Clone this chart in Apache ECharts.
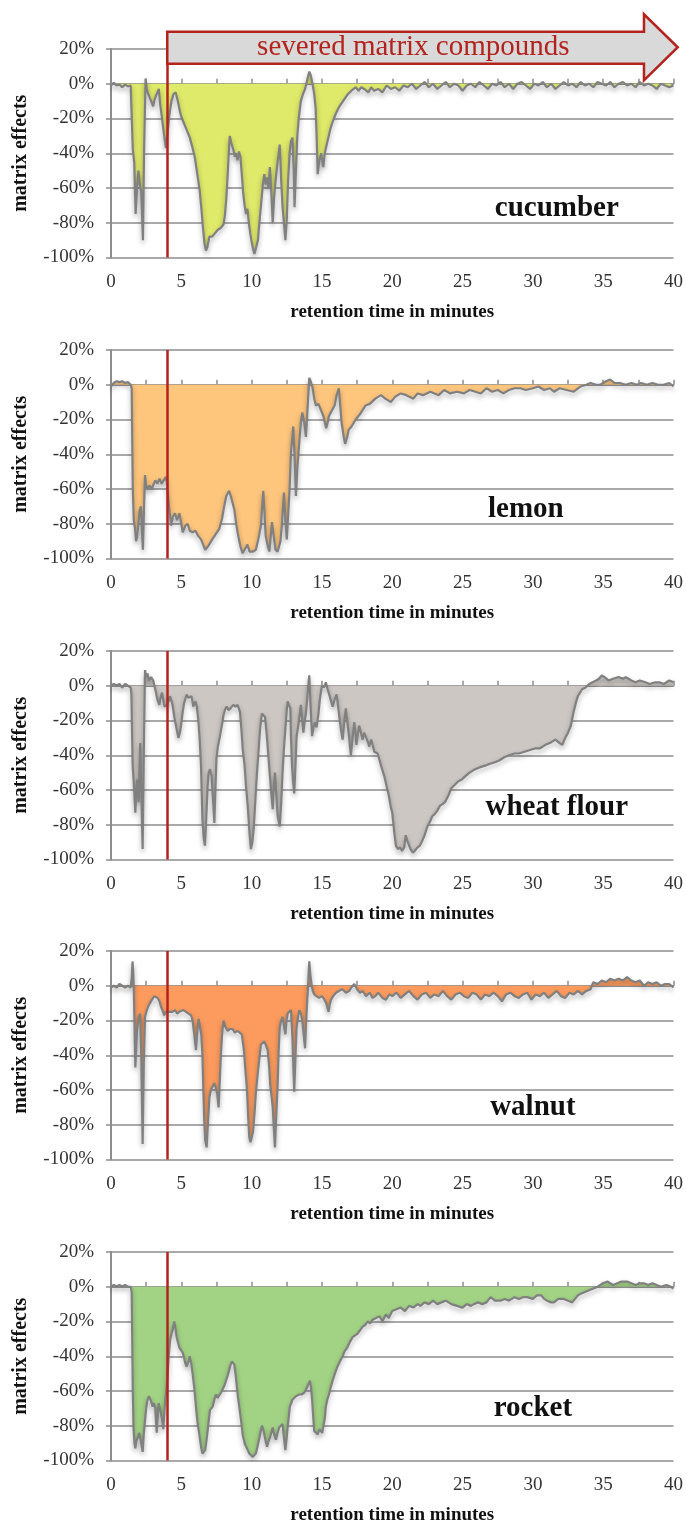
<!DOCTYPE html>
<html>
<head>
<meta charset="utf-8">
<script src="https://cdn.jsdelivr.net/npm/echarts@6/dist/echarts.min.js"></script>
<style>
  html, body { margin: 0; padding: 0; background: #fff; }
  #chart { width: 686px; height: 1527px; }
</style>
</head>
<body>
<div id="chart"></div>
<script>
// retention time (min) vs matrix effect (%)
const samples = ['cucumber', 'lemon', 'wheat flour', 'walnut', 'rocket']
const xTicks = [0, 5, 10, 15, 20, 25, 30, 35, 40]
const yTicks = [-100, -80, -60, -40, -20, 0, 20]
const arrowLabel = 'severed matrix compounds'
const cutoffTime = 4

const cucumber = [
  [0,-1],[0.2,0.5],[0.4,-1],[0.6,-0.5],[0.8,-2],[1.0,-0.5],[1.2,-1.5],[1.4,-1],[1.5,-2],
  [1.55,-38],[1.65,-45],[1.75,-75],[1.85,-60],[1.95,-50],[2.05,-58],[2.15,-62],[2.27,-90],[2.35,-40],[2.46,3],
  [2.55,-3],[2.65,-6],[2.75,-8],[2.85,-10],[3.0,-13],[3.1,-9],[3.2,-7],[3.3,-5],[3.4,-3],[3.5,-12],[3.6,-18],
  [3.75,-28],[3.9,-37],[4.0,-30],[4.15,-18],[4.3,-10],[4.45,-6],[4.6,-5],[4.75,-10],[4.9,-16],[5.0,-19],
  [5.2,-23],[5.4,-27],[5.6,-31],[5.8,-37],[5.95,-42],[6.1,-50],[6.3,-61],[6.45,-74],[6.55,-84],[6.65,-92],
  [6.75,-96],[6.85,-94],[7.0,-88],[7.2,-88],[7.4,-86],[7.6,-84],[7.8,-83],[8.0,-81],[8.1,-76],[8.2,-66],
  [8.3,-52],[8.4,-36],[8.45,-30],[8.55,-34],[8.7,-38],[8.8,-42],[8.9,-40],[9.0,-44],[9.1,-39],[9.2,-42],
  [9.3,-52],[9.4,-63],[9.5,-70],[9.6,-75],[9.7,-72],[9.8,-80],[9.9,-86],[10.0,-91],[10.1,-95],[10.2,-98],
  [10.3,-97],[10.45,-90],[10.55,-80],[10.7,-67],[10.8,-58],[10.9,-52],[11.0,-58],[11.1,-54],[11.2,-60],
  [11.3,-48],[11.4,-62],[11.5,-80],[11.6,-65],[11.75,-52],[11.85,-45],[12.0,-35],[12.1,-55],[12.2,-71],
  [12.3,-80],[12.4,-90],[12.5,-78],[12.6,-55],[12.7,-40],[12.8,-33],[12.9,-31],[13.0,-50],[13.05,-71],
  [13.15,-50],[13.25,-30],[13.35,-20],[13.5,-10],[13.65,-6],[13.8,-3],[13.95,2],[14.1,7],[14.2,5],[14.35,-1],
  [14.45,-6],[14.55,-14],[14.62,-30],[14.7,-52],[14.8,-45],[14.95,-40],[15.05,-46],[15.1,-48],[15.2,-40],
  [15.4,-33],[15.6,-26],[15.8,-21],[16.0,-17],[16.25,-13],[16.5,-10],[16.85,-6],[17.1,-4],[17.4,-2],
  [17.6,-4],[17.8,-2],[18.0,-3],[18.3,-5],[18.5,-2],[18.7,-4],[19.0,-3],[19.3,-5],[19.6,-1],[19.9,-3],
  [20.2,-2],[20.5,-4],[20.8,-1],[21.1,-2],[21.4,0],[21.7,-3],[22.0,-1],[22.3,1],[22.6,-2],[22.9,0],
  [23.2,-3],[23.5,-1],[23.8,1],[24.1,-2],[24.4,0],[24.7,-1],[25.0,-4],[25.3,-1],[25.6,0],[25.9,-2],
  [26.2,1],[26.5,-1],[26.8,-3],[27.1,0],[27.4,-1],[27.7,1],[28.0,-2],[28.3,0],[28.6,-3],[28.9,0],
  [29.2,1],[29.5,-1],[29.8,-3],[30.1,0],[30.4,-1],[30.7,1],[31.0,-2],[31.3,0],[31.6,-3],[31.9,-1],
  [32.2,1],[32.5,-1],[32.8,0],[33.1,-2],[33.4,1],[33.7,-1],[34.0,0],[34.3,-2],[34.6,1],[34.9,0],
  [35.2,-1],[35.5,1],[35.8,-2],[36.1,0],[36.4,1],[36.7,-1],[37.0,0],[37.3,-2],[37.6,1],[37.9,-1],
  [38.2,0],[38.5,-1],[38.8,-3],[39.1,0],[39.4,-1],[39.7,-2],[40.0,-1]
]

const lemon = [
  [0,-1],[0.2,1],[0.4,2],[0.6,1.5],[0.8,2],[1.0,1],[1.2,1.5],[1.4,0],[1.47,-2],[1.55,-60],[1.62,-78],
  [1.7,-82],[1.78,-90],[1.85,-88],[1.95,-80],[2.05,-72],[2.13,-70],[2.2,-85],[2.27,-95],[2.35,-70],
  [2.42,-52],[2.5,-58],[2.6,-60],[2.75,-58],[2.9,-60],[3.0,-58],[3.15,-55],[3.3,-57],[3.45,-54],[3.6,-57],
  [3.75,-55],[3.9,-53],[4.0,-58],[4.1,-68],[4.27,-81],[4.4,-76],[4.55,-74],[4.7,-78],[4.86,-74],[5.0,-80],
  [5.1,-85],[5.3,-81],[5.45,-80],[5.6,-84],[5.8,-85],[6.0,-84],[6.2,-87],[6.4,-89],[6.55,-92],[6.7,-95],
  [6.9,-93],[7.2,-89],[7.45,-86],[7.7,-83],[7.9,-77],[8.05,-70],[8.2,-64],[8.4,-61],[8.55,-65],[8.77,-72],
  [8.9,-80],[9.0,-85],[9.2,-93],[9.36,-97],[9.5,-95],[9.7,-92],[9.85,-96],[9.95,-97],[10.1,-96],[10.3,-95],
  [10.5,-88],[10.66,-81],[10.75,-70],[10.83,-61],[10.9,-72],[11.0,-87],[11.15,-93],[11.26,-96],[11.35,-88],
  [11.45,-79],[11.55,-86],[11.7,-95],[11.85,-96],[11.96,-97],[12.05,-90],[12.15,-81],[12.3,-62],[12.4,-78],
  [12.5,-89],[12.6,-88],[12.7,-60],[12.8,-39],[12.96,-24],[13.05,-40],[13.15,-64],[13.25,-48],[13.4,-32],
  [13.5,-22],[13.6,-16],[13.75,-22],[13.86,-30],[13.95,-18],[14.1,4],[14.2,2],[14.34,-2],[14.45,-8],
  [14.57,-12],[14.75,-11],[14.9,-14],[15.1,-18],[15.3,-25],[15.4,-22],[15.5,-18],[15.7,-15],[15.9,-12],
  [16.05,-6],[16.2,-2],[16.3,-12],[16.4,-22],[16.55,-30],[16.65,-34],[16.8,-30],[16.9,-26],[17.1,-24],
  [17.4,-20],[17.7,-17],[18.1,-12],[18.4,-11],[18.8,-8],[19.2,-6],[19.5,-8],[19.9,-10],[20.2,-7],[20.6,-5],
  [21.0,-6],[21.5,-8],[21.8,-5],[22.2,-6],[22.7,-4],[23.0,-5],[23.3,-6],[23.7,-3],[24.1,-5],[24.6,-4],
  [25.1,-5],[25.5,-3],[25.9,-4],[26.3,-5],[26.7,-2],[27.1,-4],[27.5,-3],[27.9,-5],[28.3,-3],[28.7,-2],
  [29.1,-2],[29.5,-3],[30.0,-2],[30.4,-1],[30.8,-3],[31.2,-2],[31.5,-4],[31.9,-2],[32.4,-3],[32.9,-4],
  [33.4,-1],[33.8,0],[34.1,1],[34.5,0],[34.8,0],[35.2,2],[35.5,3],[35.8,1],[36.2,1],[36.6,0],[37.0,1],
  [37.4,0],[37.7,1],[38.1,0],[38.5,1],[38.9,0],[39.3,0],[39.7,1],[40.0,-1]
]

const wheatFlour = [
  [0,0],[0.2,1],[0.4,0],[0.6,1],[0.8,-1],[1.0,1],[1.2,0],[1.4,-1],[1.45,-5],[1.54,-46],[1.65,-60],[1.73,-73],
  [1.85,-54],[1.97,-67],[2.08,-33],[2.15,-60],[2.25,-94],[2.33,-40],[2.42,9],[2.5,5],[2.6,7],[2.7,3],
  [2.85,5],[3.0,3],[3.08,4],[3.2,-4],[3.3,-8],[3.44,-11],[3.55,-6],[3.63,-4],[3.8,-12],[3.98,-11],[4.1,-9],
  [4.2,-6],[4.38,-11],[4.5,-18],[4.62,-23],[4.79,-30],[4.9,-27],[4.98,-23],[5.1,-15],[5.2,-10],[5.38,-5],
  [5.5,-7],[5.6,-8],[5.72,-6],[5.85,-12],[6.0,-9],[6.1,-12],[6.2,-19],[6.3,-30],[6.4,-46],[6.5,-77],
  [6.6,-88],[6.68,-92],[6.78,-75],[6.87,-58],[6.95,-50],[7.04,-48],[7.15,-52],[7.25,-65],[7.35,-79],
  [7.42,-60],[7.5,-42],[7.6,-35],[7.75,-29],[7.9,-22],[8.0,-17],[8.1,-14],[8.22,-12],[8.35,-14],[8.5,-13],
  [8.7,-11],[8.85,-12],[9.0,-11],[9.17,-15],[9.27,-25],[9.36,-36],[9.5,-46],[9.6,-58],[9.72,-69],[9.85,-85],
  [9.95,-94],[10.05,-90],[10.15,-82],[10.3,-61],[10.4,-48],[10.5,-37],[10.6,-25],[10.73,-16],[10.85,-15],
  [10.95,-18],[11.05,-26],[11.14,-35],[11.3,-52],[11.4,-62],[11.5,-71],[11.58,-58],[11.66,-50],[11.75,-62],
  [11.85,-75],[12.0,-81],[12.1,-68],[12.2,-50],[12.3,-36],[12.4,-25],[12.5,-14],[12.56,-9],[12.65,-11],
  [12.75,-13],[12.8,-30],[12.87,-46],[12.95,-55],[13.03,-62],[13.12,-45],[13.2,-29],[13.3,-24],[13.4,-18],
  [13.5,-11],[13.6,-20],[13.68,-27],[13.78,-20],[13.86,-16],[13.95,-8],[14.05,2],[14.1,6],[14.18,-10],
  [14.3,-29],[14.4,-24],[14.5,-21],[14.62,-24],[14.74,-17],[14.85,-8],[15.0,0],[15.15,-1],[15.28,2],
  [15.4,-2],[15.55,-6],[15.65,-9],[15.76,-12],[15.9,-8],[16.04,-5],[16.15,-12],[16.25,-19],[16.35,-25],
  [16.47,-31],[16.6,-20],[16.7,-13],[16.82,-22],[16.92,-29],[17.06,-40],[17.18,-30],[17.3,-21],[17.45,-34],
  [17.55,-28],[17.65,-23],[17.8,-28],[17.9,-31],[18.0,-27],[18.13,-27],[18.25,-32],[18.37,-35],[18.5,-31],
  [18.6,-34],[18.72,-38],[18.85,-37],[18.96,-39],[19.1,-43],[19.2,-46],[19.43,-52],[19.6,-58],[19.75,-63],
  [19.9,-70],[20.0,-73],[20.15,-85],[20.26,-92],[20.4,-94],[20.55,-93],[20.7,-95],[20.85,-93],[20.96,-86],
  [21.1,-90],[21.3,-94],[21.45,-96],[21.6,-95],[21.8,-93],[21.97,-92],[22.15,-89],[22.3,-86],[22.5,-81],
  [22.7,-78],[22.85,-75],[23.0,-74],[23.2,-72],[23.4,-69],[23.6,-68],[23.75,-67],[24.0,-63],[24.2,-59],
  [24.45,-57],[24.7,-55],[24.95,-54],[25.2,-52],[25.5,-50],[25.9,-48],[26.2,-47],[26.6,-46],[26.9,-45],
  [27.3,-44],[27.6,-43],[28.0,-41],[28.3,-40],[28.7,-39],[29.0,-39],[29.4,-38],[29.8,-37],[30.2,-36],
  [30.5,-36],[30.9,-34],[31.2,-33],[31.6,-31],[31.9,-33],[32.1,-34],[32.3,-30],[32.5,-27],[32.7,-23],
  [32.9,-15],[33.05,-10],[33.2,-6],[33.35,-4],[33.5,-2],[33.75,-1],[34.0,1],[34.25,2],[34.5,3],[34.7,4],
  [34.9,6],[35.1,5],[35.4,3],[35.7,4],[36.1,5],[36.4,4],[36.6,5],[36.8,4],[37.0,3],[37.3,2],[37.6,3],
  [38.0,2],[38.3,1],[38.7,2],[39.0,2],[39.3,1],[39.7,3],[40.0,2]
]

const walnut = [
  [0,-1],[0.2,0],[0.4,-1],[0.6,1],[0.8,0],[1.0,-1],[1.2,0],[1.4,-1],[1.48,5],[1.53,14],[1.58,8],[1.63,-5],
  [1.73,-47],[1.8,-35],[1.85,-26],[1.97,-18],[2.07,-16],[2.15,-40],[2.25,-91],[2.33,-45],[2.42,-18],
  [2.55,-14],[2.7,-11],[2.84,-9],[2.95,-8],[3.08,-6],[3.2,-5],[3.32,-7],[3.45,-9],[3.55,-12],[3.65,-14],
  [3.79,-17],[3.9,-15],[4.03,-14],[4.2,-15],[4.38,-15],[4.55,-14],[4.7,-16],[4.86,-15],[5.0,-16],[5.15,-14],
  [5.33,-15],[5.5,-16],[5.69,-17],[5.8,-20],[5.92,-28],[6.04,-37],[6.12,-28],[6.23,-19],[6.33,-24],
  [6.42,-28],[6.5,-40],[6.56,-58],[6.62,-75],[6.7,-89],[6.8,-93],[6.9,-78],[7.0,-64],[7.1,-60],[7.23,-58],
  [7.35,-56],[7.46,-55],[7.55,-62],[7.65,-70],[7.74,-54],[7.82,-39],[7.9,-28],[8.0,-20],[8.15,-24],
  [8.3,-26],[8.45,-25],[8.65,-25],[8.8,-27],[9.0,-26],[9.15,-27],[9.3,-28],[9.45,-37],[9.55,-48],[9.67,-60],
  [9.75,-75],[9.83,-87],[9.92,-90],[10.0,-91],[10.1,-84],[10.2,-74],[10.3,-62],[10.43,-51],[10.55,-42],
  [10.66,-34],[10.78,-33],[10.9,-32],[11.0,-34],[11.14,-37],[11.25,-47],[11.32,-57],[11.42,-64],[11.5,-70],
  [11.58,-82],[11.66,-93],[11.75,-75],[11.85,-57],[11.92,-38],[12.0,-24],[12.1,-20],[12.2,-18],[12.3,-23],
  [12.4,-28],[12.48,-20],[12.56,-16],[12.68,-15],[12.8,-14],[12.9,-30],[13.03,-61],[13.12,-40],[13.2,-24],
  [13.3,-18],[13.39,-14],[13.5,-16],[13.6,-20],[13.7,-28],[13.8,-36],[13.87,-22],[13.93,-12],[14.0,-2],
  [14.1,14],[14.18,6],[14.27,0],[14.35,-3],[14.45,-5],[14.6,-6],[14.8,-7],[15.0,-6],[15.17,-8],[15.3,-10],
  [15.47,-15],[15.55,-11],[15.65,-8],[15.8,-6],[16.0,-4],[16.2,-3],[16.45,-2],[16.7,-4],[16.94,-3],
  [17.1,-1],[17.3,1],[17.5,-2],[17.7,-4],[17.9,-3],[18.13,-6],[18.4,-4],[18.6,-7],[18.8,-6],[19.0,-4],
  [19.3,-7],[19.55,-8],[19.8,-5],[20.0,-6],[20.3,-4],[20.6,-7],[20.9,-5],[21.2,-3],[21.5,-6],[21.8,-8],
  [22.1,-5],[22.4,-4],[22.7,-7],[23.0,-5],[23.3,-6],[23.6,-3],[23.9,-6],[24.2,-8],[24.5,-5],[24.8,-4],
  [25.1,-6],[25.4,-7],[25.7,-4],[26.0,-5],[26.3,-8],[26.6,-5],[26.9,-6],[27.2,-4],[27.5,-6],[27.8,-9],
  [28.1,-5],[28.4,-4],[28.7,-6],[29.0,-7],[29.3,-5],[29.6,-4],[29.9,-8],[30.2,-5],[30.5,-6],[30.8,-4],
  [31.1,-7],[31.4,-5],[31.7,-3],[32.0,-6],[32.3,-7],[32.6,-4],[32.9,-5],[33.2,-3],[33.5,-5],[33.8,-3],
  [34.1,-2],[34.3,2],[34.6,1],[34.9,3],[35.2,2],[35.5,4],[35.8,3],[36.1,4],[36.4,3],[36.7,5],[37.0,3],
  [37.3,2],[37.6,3],[37.9,0],[38.2,2],[38.5,1],[38.8,2],[39.1,0],[39.4,1],[39.7,1],[40.0,-1]
]

const rocket = [
  [0,0],[0.2,1],[0.4,0],[0.6,1],[0.8,0],[1.0,1],[1.2,0],[1.4,0],[1.47,-3],[1.55,-60],[1.6,-81],[1.67,-90],
  [1.73,-93],[1.8,-89],[1.9,-87],[2.0,-84],[2.06,-83],[2.15,-90],[2.25,-95],[2.33,-85],[2.42,-77],[2.5,-70],
  [2.6,-65],[2.7,-63],[2.77,-62],[2.85,-66],[2.96,-69],[3.05,-67],[3.15,-70],[3.25,-84],[3.32,-75],
  [3.39,-67],[3.5,-71],[3.62,-76],[3.72,-82],[3.8,-72],[3.86,-65],[3.95,-58],[4.03,-50],[4.1,-40],[4.2,-31],
  [4.3,-27],[4.38,-25],[4.45,-22],[4.5,-20],[4.58,-24],[4.67,-29],[4.76,-32],[4.86,-35],[4.98,-36],
  [5.1,-38],[5.2,-41],[5.28,-44],[5.38,-46],[5.45,-47],[5.52,-43],[5.6,-40],[5.7,-44],[5.8,-50],[5.92,-58],
  [6.04,-69],[6.15,-78],[6.28,-85],[6.4,-92],[6.5,-96],[6.6,-97],[6.7,-94],[6.8,-88],[6.87,-83],[6.95,-77],
  [7.04,-71],[7.15,-70],[7.23,-69],[7.35,-65],[7.46,-62],[7.58,-64],[7.7,-63],[7.82,-61],[7.94,-60],
  [8.06,-57],[8.18,-54],[8.3,-51],[8.4,-48],[8.5,-45],[8.6,-43],[8.7,-44],[8.77,-45],[8.85,-50],[8.93,-56],
  [9.02,-63],[9.12,-69],[9.25,-77],[9.36,-85],[9.5,-90],[9.6,-92],[9.72,-94],[9.83,-96],[9.95,-97],
  [10.07,-98],[10.2,-97],[10.3,-96],[10.42,-92],[10.55,-87],[10.65,-83],[10.73,-80],[10.82,-82],[10.9,-85],
  [11.0,-89],[11.1,-92],[11.2,-89],[11.3,-87],[11.4,-84],[11.5,-81],[11.6,-85],[11.73,-88],[11.85,-84],
  [11.96,-81],[12.08,-80],[12.2,-79],[12.3,-87],[12.4,-94],[12.48,-88],[12.56,-81],[12.64,-75],[12.72,-69],
  [12.82,-67],[12.9,-65],[13.0,-64],[13.15,-63],[13.28,-64],[13.39,-62],[13.55,-62],[13.74,-61],[13.88,-59],
  [14.0,-58],[14.15,-54],[14.22,-58],[14.3,-65],[14.38,-75],[14.45,-83],[14.58,-84],[14.7,-85],[14.82,-82],
  [14.93,-81],[15.02,-84],[15.1,-83],[15.2,-76],[15.28,-69],[15.38,-65],[15.5,-62],[15.62,-58],[15.76,-54],
  [15.92,-50],[16.1,-46],[16.28,-43],[16.47,-40],[16.62,-37],[16.8,-35],[16.98,-32],[17.18,-29],[17.36,-28],
  [17.54,-27],[17.72,-25],[17.9,-23],[18.08,-22],[18.25,-20],[18.42,-21],[18.6,-19],[18.85,-18],[19.1,-17],
  [19.3,-20],[19.55,-16],[19.75,-18],[20.0,-14],[20.3,-13],[20.6,-12],[20.9,-14],[21.2,-11],[21.5,-12],
  [21.8,-10],[22.0,-11],[22.3,-9],[22.6,-10],[22.9,-8],[23.2,-10],[23.5,-9],[23.8,-8],[24.2,-10],[24.6,-11],
  [25.0,-12],[25.3,-10],[25.6,-11],[25.8,-10],[26.1,-9],[26.4,-10],[26.7,-9],[27.0,-6],[27.3,-8],[27.7,-8],
  [28.0,-7],[28.3,-8],[28.7,-6],[29.0,-7],[29.3,-6],[29.6,-6],[30.0,-7],[30.3,-5],[30.6,-5],[30.8,-7],
  [31.0,-8],[31.3,-9],[31.5,-9],[31.8,-7],[32.0,-7],[32.2,-7],[32.5,-8],[32.8,-9],[33.0,-7],[33.2,-5],
  [33.4,-4],[33.7,-3],[34.0,-2],[34.3,-1],[34.6,0],[34.8,1],[35.0,2],[35.3,3],[35.5,2],[35.7,1],[36.0,2],
  [36.3,3],[36.5,3],[36.7,3],[37.0,2],[37.3,1],[37.6,2],[37.9,2],[38.2,1],[38.5,2],[38.8,1],[39.1,0],
  [39.5,1],[39.8,0],[40.0,-1]
]

const seriesData = [cucumber, lemon, wheatFlour, walnut, rocket]
const fillColors = ['#dfe96a', '#fec57d', '#ccc7c2', '#fd9b5e', '#a2d384']
// where the sample name sits, in data units [min, %]
const nameSpots = [[31.7, -72], [29.5, -72], [31.7, -70], [30.0, -70], [30.0, -70]]

const FONT = '"Liberation Serif", "DejaVu Serif", serif'
const GRID_TOPS = [49, 350, 651, 951, 1252]
const GRID_H = 208.5
const GRAY = '#8d8d8d'

const grids = [], xAxes = [], yAxes = [], series = []
samples.forEach((name, i) => {
  grids.push({ left: 111, width: 563, top: GRID_TOPS[i], height: GRID_H })
  // labelled axis at the bottom
  xAxes.push({
    gridIndex: i, type: 'value', min: xTicks[0], max: xTicks[xTicks.length - 1], interval: 5,
    position: 'bottom',
    axisLine: { show: false, onZero: false },
    axisTick: { show: false },
    splitLine: { show: false },
    axisLabel: { margin: 15, fontFamily: FONT, fontSize: 19, color: '#333' },
    name: 'retention time in minutes', nameLocation: 'middle', nameGap: 45,
    nameTextStyle: { fontFamily: FONT, fontSize: 19, fontWeight: 'bold', color: '#111' }
  })
  // zero line with the small tick marks
  xAxes.push({
    gridIndex: i, type: 'value', min: 0, max: 40, interval: 2.5,
    axisLine: { show: true, onZero: true, lineStyle: { color: GRAY, width: 1.5 } },
    axisTick: { show: true, length: 5, lineStyle: { color: GRAY, width: 1.5 } },
    axisLabel: { show: false },
    splitLine: { show: false }
  })
  yAxes.push({
    gridIndex: i, type: 'value', min: yTicks[0], max: yTicks[yTicks.length - 1], interval: 20,
    axisLine: { show: true, lineStyle: { color: GRAY, width: 2 } },
    axisTick: { show: true, length: 5, lineStyle: { color: GRAY, width: 1.5 } },
    splitLine: { show: true, lineStyle: { color: GRAY, width: 1.5 } },
    axisLabel: { margin: 17, formatter: '{value}%', fontFamily: FONT, fontSize: 19, color: '#333' },
    name: 'matrix effects', nameLocation: 'middle', nameRotate: 90, nameGap: 80,
    nameTextStyle: { fontFamily: FONT, fontSize: 20, fontWeight: 'bold', color: '#111' }
  })
  series.push({
    type: 'line', name: name,
    xAxisIndex: i * 2, yAxisIndex: i,
    data: seriesData[i],
    showSymbol: false, symbol: 'none', smooth: false,
    lineStyle: {
      color: '#808080', width: 2.2,
      shadowColor: 'rgba(0,0,0,0.35)', shadowBlur: 5, shadowOffsetY: 3
    },
    areaStyle: { color: fillColors[i], opacity: 1 },
    markLine: {
      silent: true, symbol: 'none', label: { show: false },
      lineStyle: { color: '#b3221d', width: 2.5, type: 'solid' },
      data: [{ xAxis: cutoffTime }]
    },
    z: 3
  })
})

const chart = echarts.init(document.getElementById('chart'))
chart.setOption({
  animation: false,
  backgroundColor: '#fff',
  grid: grids,
  xAxis: xAxes,
  yAxis: yAxes,
  series: series
})

// annotations: arrow over the first panel and the sample names
const px = (gi, t, v) => chart.convertToPixel({ xAxisIndex: gi * 2, yAxisIndex: gi }, [t, v])
const a = [px(0, 4, 30), px(0, 37.9, 30), px(0, 37.9, 40), px(0, 40.3, 21), px(0, 37.9, 2), px(0, 37.9, 11.5), px(0, 4, 11.5)]
const graphics = [{
  type: 'polygon', z: 10,
  shape: { points: a },
  style: { fill: '#d9d9d9', stroke: '#b3221d', lineWidth: 2.5 }
}, {
  type: 'text', z: 11,
  x: px(0, 21.5, 21)[0], y: px(0, 21.5, 21)[1],
  style: { text: arrowLabel, fill: '#b3221d', font: '29px ' + FONT, align: 'center', verticalAlign: 'middle' }
}]
samples.forEach((name, i) => {
  const p = px(i, nameSpots[i][0], nameSpots[i][1])
  graphics.push({
    type: 'text', z: 11, x: p[0], y: p[1],
    style: { text: name, fill: '#111', font: 'bold 29px ' + FONT, align: 'center', verticalAlign: 'middle' }
  })
})
chart.setOption({ graphic: graphics })
</script>
</body>
</html>
